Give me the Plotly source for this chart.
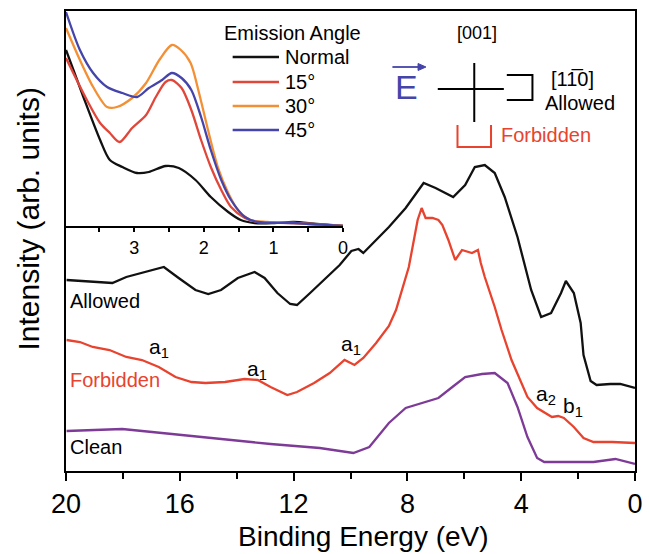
import plotly.graph_objects as go

# ---------------- main panel data (Binding energy eV, intensity arb.) ----------------
allowed_E = [19.98, 19.06, 18.37, 17.88, 17.19, 16.56, 16.04, 15.45, 15.0, 14.55, 13.96, 13.37,
             13.02, 12.57, 12.12, 11.88, 11.42, 10.94, 10.38, 9.97, 9.72, 9.55, 9.10, 8.65,
             8.06, 7.43, 7.01, 6.39, 5.97, 5.63, 5.28, 4.93, 4.58, 4.13, 3.65, 3.30, 2.95,
             2.60, 2.43, 2.15, 1.91, 1.81, 1.56, 1.35, 0.87, 0.52, 0.0]
allowed_I = [191, 189, 188, 194, 199, 204, 193, 181, 177, 181, 193, 199,
             193, 178, 167, 166, 178, 191, 206, 220, 222, 218, 231, 244,
             263, 288, 283, 274, 286, 304, 306, 298, 274, 234, 181, 154, 158,
             178, 190, 178, 148, 116, 90, 86, 87, 87, 83]

forbidden_E = [19.98, 19.51, 19.06, 18.47, 17.88, 17.33, 16.74, 16.15, 15.59, 15.10, 14.41,
               13.72, 13.26, 12.81, 12.22, 11.88, 11.28, 10.73, 10.21, 9.86, 9.55, 9.10,
               8.65, 8.40, 7.95, 7.64, 7.50, 7.36, 7.12, 6.91, 6.77, 6.56, 6.32, 6.08,
               5.73, 5.52, 5.42, 5.28, 4.93, 4.69, 4.34, 3.78, 3.44, 2.92, 2.70, 2.50,
               2.15, 1.81, 1.46, 0.80, 0.0]
forbidden_I = [131, 129, 124, 121, 114, 111, 104, 94, 89, 88, 89,
               92, 91, 84, 76, 79, 88, 98, 111, 106, 113, 128,
               145, 161, 204, 251, 263, 253, 253, 251, 246, 231, 211, 221,
               218, 221, 208, 194, 164, 141, 111, 74, 63, 54, 55, 53,
               44, 33, 29, 29, 28]

clean_E = [19.98, 18.02, 16.28, 14.55, 12.81, 11.08, 9.90, 9.34, 8.65, 8.06, 7.47, 6.91,
           6.42, 5.97, 5.38, 4.93, 4.48, 4.13, 3.78, 3.44, 3.19, 1.46, 0.69, 0.0]
clean_I = [40, 42, 37, 32, 27, 23, 18, 24, 48, 63, 68, 73,
           84, 94, 97, 98, 88, 64, 34, 13, 9, 9, 12, 7]

# ---------------- inset data (emission-angle series) ----------------
normal_E = [3.98, 3.73, 3.49, 3.35, 3.17, 2.96, 2.79, 2.55, 2.36, 2.12, 1.90, 1.65, 1.47,
            1.27, 0.99, 0.71, 0.38, 0.0]
normal_I = [176, 129, 86, 66, 59, 53, 54, 60, 58, 46, 29, 14, 6, 3, 3, 4, 2, 0]

a15_E = [3.98, 3.68, 3.49, 3.35, 3.21, 3.03, 2.83, 2.69, 2.55, 2.46, 2.32, 2.18, 2.04,
         1.90, 1.75, 1.61, 1.41, 1.23, 0.71, 0.0]
a15_I = [168, 126, 103, 93, 84, 98, 111, 129, 144, 146, 138, 116, 86, 59, 36, 19, 8, 4, 3, 0]

a30_E = [3.98, 3.78, 3.59, 3.39, 3.25, 3.03, 2.83, 2.64, 2.46, 2.33, 2.19, 2.08, 1.94,
         1.80, 1.65, 1.51, 1.33, 1.09, 0.71, 0.0]
a30_I = [198, 166, 139, 119, 119, 128, 143, 166, 181, 176, 163, 136, 96, 59, 33, 16, 6, 4, 3, 0]

a45_E = [3.98, 3.78, 3.59, 3.39, 3.17, 2.96, 2.79, 2.60, 2.46, 2.32, 2.18, 2.04, 1.90,
         1.75, 1.61, 1.41, 1.23, 0.71, 0.0]
a45_I = [214, 176, 153, 139, 133, 129, 138, 146, 153, 148, 136, 109, 76, 46, 26, 9, 4, 3, 0]

main_ticks = [20, 16, 12, 8, 4, 0]
main_minor = [18, 14, 10, 6, 2]
inset_ticks = [3, 2, 1, 0]
inset_minor = [3.5, 2.5, 1.5, 0.5]

# ---------------- styling ----------------
FONT = "Arial, 'Liberation Sans', sans-serif"
BLACK = "#111111"
RED = "#e8432e"
RED15 = "#e0473a"
ORANGE = "#f39035"
BLUE = "#4444aa"
PURPLE = "#7d3a96"

W, H = 650, 554
L, R, T, B = 66, 643, 11, 471


def px(x):
    return (x - L) / (R - L)


def py(y):
    return (B - y) / (B - T)


fig = go.Figure()

fig.add_trace(go.Scatter(x=allowed_E, y=allowed_I, mode="lines", name="Allowed",
                         line=dict(color=BLACK, width=2.3)))
fig.add_trace(go.Scatter(x=forbidden_E, y=forbidden_I, mode="lines", name="Forbidden",
                         line=dict(color=RED, width=2.3)))
fig.add_trace(go.Scatter(x=clean_E, y=clean_I, mode="lines", name="Clean",
                         line=dict(color=PURPLE, width=2.3)))

for e, i, c, n in [(normal_E, normal_I, BLACK, "Normal"), (a15_E, a15_I, RED15, "15°"),
                   (a30_E, a30_I, ORANGE, "30°"), (a45_E, a45_I, BLUE, "45°")]:
    fig.add_trace(go.Scatter(x=e, y=i, mode="lines", name=n, xaxis="x2", yaxis="y2",
                             line=dict(color=c, width=2.3, shape="spline", smoothing=0.8)))

fig.update_traces(showlegend=False)

axis_common = dict(showgrid=False, zeroline=False, linecolor="black", linewidth=2)

fig.update_layout(
    width=W, height=H,
    margin=dict(l=L, r=W - R, t=T, b=H - B),
    paper_bgcolor="white", plot_bgcolor="white",
    font=dict(family=FONT, color="black"),
    xaxis=dict(domain=[0, 1], range=[20, 0], tickmode="array", tickvals=main_ticks,
               ticks="outside", ticklen=8, tickwidth=2, tickcolor="black",
               minor=dict(tickmode="array", tickvals=main_minor, ticks="outside",
                          ticklen=6, tickwidth=2, tickcolor="black"),
               showline=True, mirror=True, tickfont=dict(size=27),
               **axis_common),
    yaxis=dict(range=[0, B - T], showticklabels=False, ticks="", showline=True, mirror=True,
               **axis_common),
    xaxis2=dict(domain=[0, px(347)], anchor="y2", range=[3.98, 0], tickmode="array",
                tickvals=inset_ticks, ticks="outside", ticklen=4, tickwidth=1.5,
                tickcolor="black",
                minor=dict(tickmode="array", tickvals=inset_minor, ticks="outside",
                           ticklen=4, tickwidth=1.5, tickcolor="black"),
                showline=True, tickfont=dict(size=18), **axis_common),
    yaxis2=dict(domain=[py(226), 1], anchor="x2", range=[0, 215], visible=False),
)

ann = []


def text(x, y, s, size, color="black", xanchor="center", **kw):
    ann.append(dict(x=px(x), y=py(y), xref="paper", yref="paper", text=s, showarrow=False,
                    xanchor=xanchor, yanchor="middle", font=dict(size=size, color=color,
                                                                  family=FONT), **kw))


# axis titles
text(27, 219, "Intensity (arb. units)", 30, textangle=-90)
text(368, 536, "Binding Energy (eV)", 28)

# curve labels
text(68, 301, "Allowed", 20, xanchor="left")
text(68, 380, "Forbidden", 20, RED, xanchor="left")
text(68, 447, "Clean", 20, xanchor="left")
text(148, 348, "a<sub>1</sub>", 21, xanchor="left")
text(248, 370, "a<sub>1</sub>", 21, xanchor="left")
text(343, 345, "a<sub>1</sub>", 21, xanchor="left")
text(541, 395, "a<sub>2</sub>", 21, xanchor="left")
text(568, 407, "b<sub>1</sub>", 21, xanchor="left")

# manual inset legend
text(296, 33, "Emission Angle", 20)
shapes = []
for yy, lab, col in [(57, "Normal", BLACK), (82, "15°", RED15), (106, "30°", ORANGE),
                     (130, "45°", BLUE)]:
    shapes.append(dict(type="line", xref="paper", yref="paper", x0=px(235), x1=px(282),
                       y0=py(yy), y1=py(yy), line=dict(color=col, width=2.5)))
    text(286, yy, lab, 20, xanchor="left")

# geometry diagram
shapes.append(dict(type="line", xref="paper", yref="paper", x0=px(443), x1=px(510),
                   y0=py(89), y1=py(89), line=dict(color="black", width=2)))
shapes.append(dict(type="line", xref="paper", yref="paper", x0=px(480), x1=px(480),
                   y0=py(63), y1=py(122), line=dict(color="black", width=2)))
shapes.append(dict(type="path", xref="paper", yref="paper",
                   path=f"M{px(513)},{py(75)} L{px(539)},{py(75)} L{px(539)},{py(100)} L{px(513)},{py(100)}",
                   line=dict(color="black", width=2)))
shapes.append(dict(type="path", xref="paper", yref="paper",
                   path=f"M{px(463)},{py(125)} L{px(463)},{py(147)} L{px(497)},{py(147)} L{px(497)},{py(125)}",
                   line=dict(color=RED, width=2)))
# vector arrow above E
shapes.append(dict(type="line", xref="paper", yref="paper", x0=px(397), x1=px(425),
                   y0=py(67), y1=py(67), line=dict(color=BLUE, width=1.8)))
shapes.append(dict(type="path", xref="paper", yref="paper",
                   path=f"M{px(431)},{py(67)} L{px(423)},{py(63.5)} L{px(423)},{py(70.5)} Z",
                   fillcolor=BLUE, line=dict(color=BLUE, width=1)))

text(411, 87, "E", 34, BLUE)
text(483, 33, "[001]", 18)
text(580, 79, "[11\u03050]", 20)
text(587, 103, "Allowed", 20)
text(553, 135, "Forbidden", 20, RED)

fig.update_layout(annotations=ann, shapes=shapes)

fig.write_html("out.html")
